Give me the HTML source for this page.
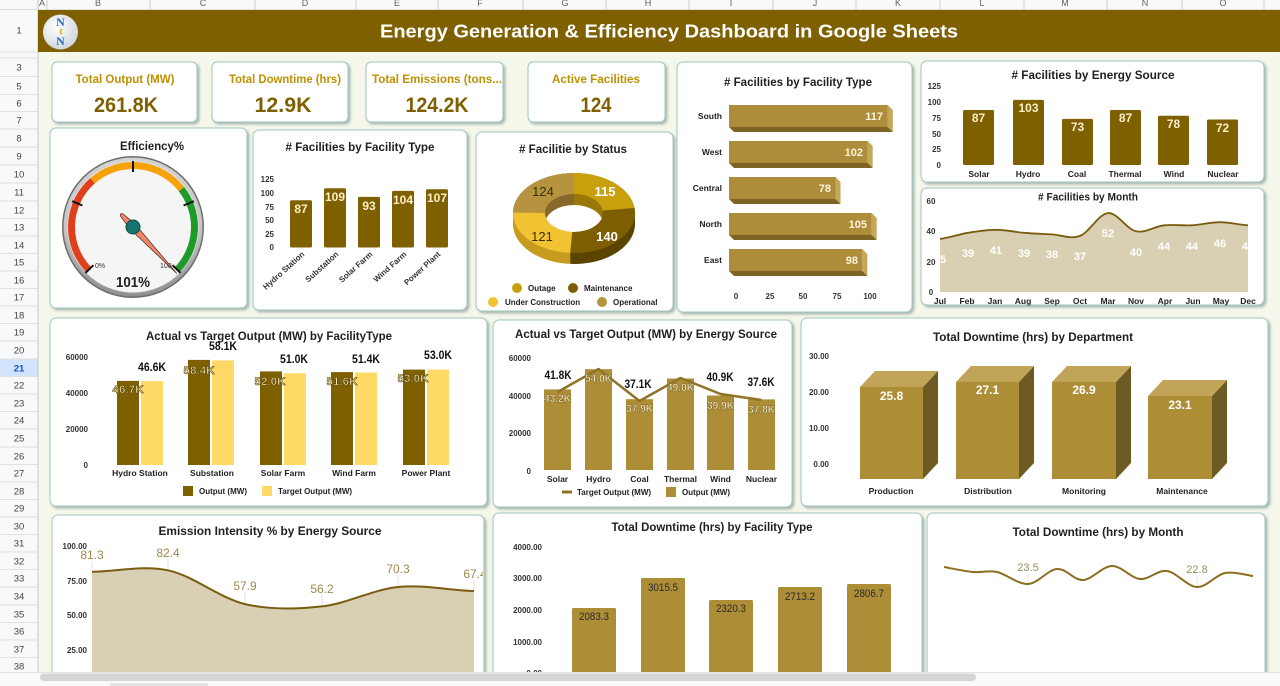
<!DOCTYPE html>
<html><head><meta charset="utf-8"><title>Energy Generation &amp; Efficiency Dashboard</title><style>
html,body{margin:0;padding:0;background:#f5f7eb;overflow:hidden;}
svg{display:block;font-family:"Liberation Sans",Arial,sans-serif;}
</style></head><body>
<svg width="1280" height="686" viewBox="0 0 1280 686" xmlns="http://www.w3.org/2000/svg">
<defs>
<filter id="sh" x="-5%" y="-5%" width="112%" height="115%"><feDropShadow dx="2" dy="2" stdDeviation="1.4" flood-color="#4f6f6a" flood-opacity="0.45"/></filter>
<radialGradient id="bez" cx="50%" cy="35%" r="65%"><stop offset="0" stop-color="#f0f0f0"/><stop offset="0.8" stop-color="#c4c4c4"/><stop offset="1" stop-color="#8c8c8c"/></radialGradient>
<radialGradient id="logo" cx="40%" cy="35%" r="70%"><stop offset="0" stop-color="#ffffff"/><stop offset="1" stop-color="#cdd5dc"/></radialGradient>
<clipPath id="cm"><rect x="938" y="190" width="313" height="112"/></clipPath>
<clipPath id="ce"><rect x="53" y="516" width="430" height="160"/></clipPath>
</defs>
<rect width="1280" height="686" fill="#f5f7eb"/>

<!-- column header -->
<rect x="0" y="0" width="1280" height="10" fill="#f8f9fa"/>
<g stroke="#d0d0d0" stroke-width="1">
<line x1="47" y1="0" x2="47" y2="10"/><line x1="150" y1="0" x2="150" y2="10"/><line x1="255" y1="0" x2="255" y2="10"/><line x1="356" y1="0" x2="356" y2="10"/><line x1="438" y1="0" x2="438" y2="10"/><line x1="523" y1="0" x2="523" y2="10"/><line x1="606" y1="0" x2="606" y2="10"/><line x1="689" y1="0" x2="689" y2="10"/><line x1="773" y1="0" x2="773" y2="10"/><line x1="856" y1="0" x2="856" y2="10"/><line x1="940" y1="0" x2="940" y2="10"/><line x1="1024" y1="0" x2="1024" y2="10"/><line x1="1107" y1="0" x2="1107" y2="10"/><line x1="1182" y1="0" x2="1182" y2="10"/><line x1="1264" y1="0" x2="1264" y2="10"/>
</g>
<line x1="0" y1="10" x2="1280" y2="10" stroke="#c4c7c5"/>
<g font-size="9" fill="#5f6368" text-anchor="middle">
<text x="42" y="6">A</text><text x="98" y="6">B</text><text x="203" y="6">C</text><text x="305" y="6">D</text><text x="397" y="6">E</text><text x="480" y="6">F</text><text x="565" y="6">G</text><text x="648" y="6">H</text><text x="731" y="6">I</text><text x="815" y="6">J</text><text x="898" y="6">K</text><text x="982" y="6">L</text><text x="1065" y="6">M</text><text x="1145" y="6">N</text><text x="1223" y="6">O</text>
</g>

<!-- row header -->
<rect x="0" y="10" width="38" height="662" fill="#f8f9fa"/>
<rect x="0" y="359" width="38" height="17.5" fill="#d3e3fd"/>
<g stroke="#e0e0e0" stroke-width="1">
<line x1="0" y1="52" x2="38" y2="52"/><line x1="0" y1="58" x2="38" y2="58"/><line x1="0" y1="76.5" x2="38" y2="76.5"/><line x1="0" y1="94.5" x2="38" y2="94.5"/><line x1="0" y1="111.5" x2="38" y2="111.5"/><line x1="0" y1="129" x2="38" y2="129"/><line x1="0" y1="147" x2="38" y2="147"/><line x1="0" y1="165" x2="38" y2="165"/><line x1="0" y1="183" x2="38" y2="183"/><line x1="0" y1="201" x2="38" y2="201"/><line x1="0" y1="218.5" x2="38" y2="218.5"/><line x1="0" y1="236" x2="38" y2="236"/><line x1="0" y1="253.5" x2="38" y2="253.5"/><line x1="0" y1="271" x2="38" y2="271"/><line x1="0" y1="288.5" x2="38" y2="288.5"/><line x1="0" y1="306" x2="38" y2="306"/><line x1="0" y1="323.5" x2="38" y2="323.5"/><line x1="0" y1="341" x2="38" y2="341"/><line x1="0" y1="359" x2="38" y2="359"/><line x1="0" y1="376.5" x2="38" y2="376.5"/><line x1="0" y1="394" x2="38" y2="394"/><line x1="0" y1="411.5" x2="38" y2="411.5"/><line x1="0" y1="429" x2="38" y2="429"/><line x1="0" y1="447" x2="38" y2="447"/><line x1="0" y1="464.5" x2="38" y2="464.5"/><line x1="0" y1="482" x2="38" y2="482"/><line x1="0" y1="499.5" x2="38" y2="499.5"/><line x1="0" y1="517" x2="38" y2="517"/><line x1="0" y1="534.5" x2="38" y2="534.5"/><line x1="0" y1="552" x2="38" y2="552"/><line x1="0" y1="569.5" x2="38" y2="569.5"/><line x1="0" y1="587" x2="38" y2="587"/><line x1="0" y1="605" x2="38" y2="605"/><line x1="0" y1="622.5" x2="38" y2="622.5"/><line x1="0" y1="640" x2="38" y2="640"/><line x1="0" y1="657.5" x2="38" y2="657.5"/>
</g>
<line x1="38" y1="0" x2="38" y2="672" stroke="#c4c7c5"/>
<g font-size="9.5" fill="#444" text-anchor="middle">
<text x="19" y="33.5">1</text><text x="19" y="70.5">3</text><text x="19" y="89.5">5</text><text x="19" y="106.5">6</text><text x="19" y="123.5">7</text><text x="19" y="141.5">8</text><text x="19" y="159.5">9</text><text x="19" y="177.5">10</text><text x="19" y="195.5">11</text><text x="19" y="213.5">12</text><text x="19" y="230.5">13</text><text x="19" y="248.5">14</text><text x="19" y="265.5">15</text><text x="19" y="283.5">16</text><text x="19" y="300.5">17</text><text x="19" y="318.5">18</text><text x="19" y="335.5">19</text><text x="19" y="353.5">20</text><text x="19" y="371.5" fill="#0b57d0" font-weight="bold">21</text><text x="19" y="388.5">22</text><text x="19" y="406.5">23</text><text x="19" y="423.5">24</text><text x="19" y="441.5">25</text><text x="19" y="459.5">26</text><text x="19" y="476.5">27</text><text x="19" y="494.5">28</text><text x="19" y="511.5">29</text><text x="19" y="529.5">30</text><text x="19" y="546.5">31</text><text x="19" y="564.5">32</text><text x="19" y="581.5">33</text><text x="19" y="599.5">34</text><text x="19" y="617.5">35</text><text x="19" y="634.5">36</text><text x="19" y="652.5">37</text><text x="19" y="669.5">38</text>
</g>

<!-- banner -->
<rect x="38" y="10" width="1242" height="42" fill="#7f6000"/>
<circle cx="60.5" cy="32" r="17.5" fill="url(#logo)"/>
<g font-family="Liberation Serif,serif" font-weight="bold" text-anchor="middle">
<text x="60.5" y="26" font-size="12" fill="#1f6fc0">N</text>
<text x="61" y="34.5" font-size="10" fill="#d9a40c">t</text>
<text x="60.5" y="45" font-size="12" fill="#1f6fc0">N</text>
</g>
<text x="669" y="37.5" font-size="18" font-weight="bold" fill="#ffffff" text-anchor="middle" textLength="578" lengthAdjust="spacingAndGlyphs">Energy Generation &amp; Efficiency Dashboard in Google Sheets</text>

<!-- cards -->
<g fill="#ffffff" stroke="#9fc5c0" stroke-width="1" filter="url(#sh)">
<rect x="52" y="62" width="145" height="60" rx="5"/>
<rect x="212" y="62" width="136" height="60" rx="5"/>
<rect x="366" y="62" width="137" height="60" rx="5"/>
<rect x="528" y="62" width="137" height="60" rx="5"/>
<rect x="50" y="128" width="197" height="180" rx="6"/>
<rect x="253" y="130" width="214" height="180" rx="6"/>
<rect x="476" y="132" width="197" height="179" rx="6"/>
<rect x="677" y="62" width="235" height="250" rx="6"/>
<rect x="921" y="61" width="343" height="121" rx="6"/>
<rect x="921" y="188" width="343" height="117" rx="6"/>
<rect x="50" y="318" width="437" height="188" rx="6"/>
<rect x="493" y="320" width="299" height="187" rx="6"/>
<rect x="801" y="318" width="467" height="188" rx="6"/>
<rect x="52" y="515" width="432" height="180" rx="6"/>
<rect x="493" y="513" width="429" height="180" rx="6"/>
<rect x="927" y="513" width="338" height="180" rx="6"/>
</g>

<!-- KPIs -->
<g font-weight="bold" text-anchor="middle">
<g font-size="12" fill="#bf9000">
<text x="125" y="83" textLength="99" lengthAdjust="spacingAndGlyphs">Total Output (MW)</text>
<text x="285" y="83" textLength="112" lengthAdjust="spacingAndGlyphs">Total Downtime (hrs)</text>
<text x="437" y="83" textLength="130" lengthAdjust="spacingAndGlyphs">Total Emissions (tons...</text>
<text x="596" y="83" textLength="88" lengthAdjust="spacingAndGlyphs">Active Facilities</text>
</g>
<g font-size="21" fill="#7f6000">
<text x="126" y="112" textLength="64" lengthAdjust="spacingAndGlyphs">261.8K</text>
<text x="283" y="112" textLength="57" lengthAdjust="spacingAndGlyphs">12.9K</text>
<text x="437" y="112" textLength="63" lengthAdjust="spacingAndGlyphs">124.2K</text>
<text x="596" y="112" textLength="31" lengthAdjust="spacingAndGlyphs">124</text>
</g>
</g>

<!-- chart titles -->
<g font-weight="bold" fill="#1f1f1f" text-anchor="middle" font-size="12">
<text x="152" y="150" textLength="64" lengthAdjust="spacingAndGlyphs">Efficiency%</text>
<text x="360" y="151" textLength="149" lengthAdjust="spacingAndGlyphs"># Facilities by Facility Type</text>
<text x="573" y="153" textLength="108" lengthAdjust="spacingAndGlyphs"># Facilitie by Status</text>
<text x="798" y="86" textLength="148" lengthAdjust="spacingAndGlyphs"># Facilities by Facility Type</text>
<text x="1093" y="79" textLength="163" lengthAdjust="spacingAndGlyphs"># Facilities by  Energy Source</text>
<text x="1088" y="200.5" font-size="11" textLength="100" lengthAdjust="spacingAndGlyphs"># Facilities by  Month</text>
<text x="269" y="340" textLength="246" lengthAdjust="spacingAndGlyphs">Actual vs Target Output (MW) by FacilityType</text>
<text x="646" y="338" textLength="262" lengthAdjust="spacingAndGlyphs">Actual vs Target Output (MW) by Energy Source</text>
<text x="1033" y="341" textLength="200" lengthAdjust="spacingAndGlyphs">Total Downtime (hrs)  by Department</text>
<text x="270" y="535" textLength="223" lengthAdjust="spacingAndGlyphs">Emission Intensity  % by  Energy Source</text>
<text x="712" y="531" textLength="201" lengthAdjust="spacingAndGlyphs">Total Downtime (hrs) by Facility Type</text>
<text x="1098" y="536" textLength="171" lengthAdjust="spacingAndGlyphs">Total Downtime (hrs)  by Month</text>
</g>

<!-- Gauge -->
<circle cx="133" cy="227" r="71" fill="#6e6e6e"/>
<circle cx="133" cy="227" r="69.5" fill="url(#bez)"/>
<circle cx="133" cy="227" r="65.5" fill="#f5f5f5"/>
<g fill="none" stroke-width="7">
<path d="M88.76,269.72 A61.5,61.5 0 0 1 92.65,180.59" stroke="#df3f1b"/>
<path d="M92.65,180.59 A61.5,61.5 0 0 1 181.46,189.14" stroke="#f6a20a"/>
<path d="M181.46,189.14 A61.5,61.5 0 0 1 177.24,269.72" stroke="#1f9a2a"/>
</g>
<g stroke="#111" stroke-width="2">
<line x1="93.44" y1="265.21" x2="85.53" y2="272.85"/>
<line x1="82.4" y1="205.5" x2="72.2" y2="201.2"/>
<line x1="133" y1="172" x2="133" y2="161"/>
<line x1="183.6" y1="205.5" x2="193.8" y2="201.2"/>
<line x1="172.56" y1="265.21" x2="180.47" y2="272.85"/>
</g>
<text x="95" y="268" font-size="7" fill="#333">0%</text>
<text x="160" y="268" font-size="7" fill="#333">100</text>
<g transform="rotate(136.7 133 227)">
<path d="M133,163 L136.5,227 L134.8,243 Q133,247 131.2,243 L129.5,227 Z" fill="#f0866a" stroke="#4a2a20" stroke-width="0.7"/>
</g>
<circle cx="133" cy="227" r="7" fill="#17736b" stroke="#0d4d47" stroke-width="1"/>
<text x="133" y="287" font-size="15" font-weight="bold" fill="#1f1f1f" text-anchor="middle" textLength="34" lengthAdjust="spacingAndGlyphs">101%</text>

<!-- Small bar chart -->
<g font-size="8" font-weight="bold" fill="#333" text-anchor="end">
<text x="274" y="182">125</text><text x="274" y="196">100</text><text x="274" y="210">75</text><text x="274" y="223">50</text><text x="274" y="237">25</text><text x="274" y="250">0</text>
</g>
<g fill="#7f6000">
<rect x="290" y="200.2" width="22" height="47.3" rx="1.5"/>
<rect x="324" y="188.2" width="22" height="59.3" rx="1.5"/>
<rect x="358" y="196.9" width="22" height="50.6" rx="1.5"/>
<rect x="392" y="190.9" width="22" height="56.6" rx="1.5"/>
<rect x="426" y="189.3" width="22" height="58.2" rx="1.5"/>
</g>
<g font-size="12" font-weight="bold" fill="#fbefc8" text-anchor="middle">
<text x="301" y="213">87</text><text x="335" y="201">109</text><text x="369" y="210">93</text><text x="403" y="204">104</text><text x="437" y="202">107</text>
</g>
<g font-size="8" font-weight="bold" fill="#333" text-anchor="end">
<text transform="translate(305,255) rotate(-42)">Hydro Station</text>
<text transform="translate(339,255) rotate(-42)">Substation</text>
<text transform="translate(373,255) rotate(-42)">Solar Farm</text>
<text transform="translate(407,255) rotate(-42)">Wind Farm</text>
<text transform="translate(441,255) rotate(-42)">Power Plant</text>
</g>

<!-- Donut -->
<g id="dside">
<path d="M574,173 A61,40 0 0 1 634.52,207.99 L602.77,210.62 A29,19 0 0 0 574,194 Z" fill="#98780a"/>
<path d="M634.52,207.99 A61,40 0 0 1 570.17,252.92 L572.18,231.96 A29,19 0 0 0 602.77,210.62 Z" fill="#5a4400"/>
<path d="M570.17,252.92 A61,40 0 0 1 513,212.5 L545,212.76 A29,19 0 0 0 572.18,231.96 Z" fill="#c79c1e"/>
<path d="M513,212.5 A61,40 0 0 1 574,173 L574,194 A29,19 0 0 0 545,212.76 Z" fill="#87692a"/>
</g>
<use href="#dside" y="11"/><use href="#dside" y="10"/><use href="#dside" y="9"/><use href="#dside" y="8"/><use href="#dside" y="7"/><use href="#dside" y="6"/><use href="#dside" y="5"/><use href="#dside" y="4"/><use href="#dside" y="3"/><use href="#dside" y="2"/><use href="#dside" y="1"/>
<path d="M574,173 A61,40 0 0 1 634.52,207.99 L602.77,210.62 A29,19 0 0 0 574,194 Z" fill="#c89f0c"/>
<path d="M634.52,207.99 A61,40 0 0 1 570.17,252.92 L572.18,231.96 A29,19 0 0 0 602.77,210.62 Z" fill="#7d5e02"/>
<path d="M570.17,252.92 A61,40 0 0 1 513,212.5 L545,212.76 A29,19 0 0 0 572.18,231.96 Z" fill="#f1c232"/>
<path d="M513,212.5 A61,40 0 0 1 574,173 L574,194 A29,19 0 0 0 545,212.76 Z" fill="#b6933e"/>
<g font-size="13" text-anchor="middle">
<text x="605" y="196" fill="#fff" font-weight="bold">115</text>
<text x="607" y="241" fill="#fff" font-weight="bold">140</text>
<text x="542" y="241" fill="#3a3000">121</text>
<text x="543" y="196" fill="#3a3000">124</text>
</g>
<circle cx="517" cy="288" r="5" fill="#c89f0c"/><circle cx="573" cy="288" r="5" fill="#7d5e02"/>
<circle cx="493" cy="302" r="5" fill="#f1c232"/><circle cx="602" cy="302" r="5" fill="#b6933e"/>
<g font-size="8" font-weight="bold" fill="#222">
<text x="528" y="291">Outage</text><text x="584" y="291">Maintenance</text>
<text x="505" y="305">Under Construction</text><text x="613" y="305">Operational</text>
</g>

<!-- Horizontal 3D bars -->
<g>
<rect x="729" y="105" width="158.8" height="22" fill="#ad8c3a"/>
<polygon points="887.8,105 892.8,110 892.8,132 887.8,127" fill="#c4a75b"/>
<polygon points="729,127 887.8,127 892.8,132 734,132" fill="#7c6424"/>
<rect x="729" y="141" width="138.7" height="22" fill="#ad8c3a"/>
<polygon points="867.7,141 872.7,146 872.7,168 867.7,163" fill="#c4a75b"/>
<polygon points="729,163 867.7,163 872.7,168 734,168" fill="#7c6424"/>
<rect x="729" y="177" width="106.5" height="22" fill="#ad8c3a"/>
<polygon points="835.5,177 840.5,182 840.5,204 835.5,199" fill="#c4a75b"/>
<polygon points="729,199 835.5,199 840.5,204 734,204" fill="#7c6424"/>
<rect x="729" y="213" width="142.7" height="22" fill="#ad8c3a"/>
<polygon points="871.7,213 876.7,218 876.7,240 871.7,235" fill="#c4a75b"/>
<polygon points="729,235 871.7,235 876.7,240 734,240" fill="#7c6424"/>
<rect x="729" y="249" width="133.3" height="22" fill="#ad8c3a"/>
<polygon points="862.3,249 867.3,254 867.3,276 862.3,271" fill="#c4a75b"/>
<polygon points="729,271 862.3,271 867.3,276 734,276" fill="#7c6424"/>
</g>
<g font-size="11" font-weight="bold" fill="#fff5dc" text-anchor="end">
<text x="883" y="120">117</text><text x="863" y="156">102</text><text x="831" y="192">78</text><text x="867" y="228">105</text><text x="858" y="264">98</text>
</g>
<g font-size="8.5" font-weight="bold" fill="#222" text-anchor="end">
<text x="722" y="119">South</text><text x="722" y="155">West</text><text x="722" y="191">Central</text><text x="722" y="227">North</text><text x="722" y="263">East</text>
</g>
<g font-size="8" font-weight="bold" fill="#333" text-anchor="middle">
<text x="736" y="299">0</text><text x="770" y="299">25</text><text x="803" y="299">50</text><text x="837" y="299">75</text><text x="870" y="299">100</text>
</g>

<!-- Energy source bars -->
<g font-size="8" font-weight="bold" fill="#333" text-anchor="end">
<text x="941" y="89">125</text><text x="941" y="105">100</text><text x="941" y="121">75</text><text x="941" y="137">50</text><text x="941" y="152">25</text><text x="941" y="168">0</text>
</g>
<g fill="#7f6000">
<rect x="963" y="110" width="31" height="55" rx="1.5"/>
<rect x="1013" y="99.9" width="31" height="65.1" rx="1.5"/>
<rect x="1062" y="118.9" width="31" height="46.1" rx="1.5"/>
<rect x="1110" y="110" width="31" height="55" rx="1.5"/>
<rect x="1158" y="115.7" width="31" height="49.3" rx="1.5"/>
<rect x="1207" y="119.5" width="31" height="45.5" rx="1.5"/>
</g>
<g font-size="12" font-weight="bold" fill="#fbefc8" text-anchor="middle">
<text x="978.5" y="122">87</text><text x="1028.5" y="112">103</text><text x="1077.5" y="131">73</text><text x="1125.5" y="122">87</text><text x="1173.5" y="128">78</text><text x="1222.5" y="132">72</text>
</g>
<g font-size="8.5" font-weight="bold" fill="#222" text-anchor="middle">
<text x="979" y="177">Solar</text><text x="1028" y="177">Hydro</text><text x="1077" y="177">Coal</text><text x="1125" y="177">Thermal</text><text x="1174" y="177">Wind</text><text x="1223" y="177">Nuclear</text>
</g>

<!-- Month area -->
<g clip-path="url(#cm)">
<path d="M940,238.9 C949.3,237.9 958.7,234.3 968,232.8 C977.3,231.3 986.7,229.8 996,229.8 C1005.3,229.8 1014.7,232.0 1024,232.8 C1033.3,233.6 1042.7,233.9 1052,234.4 C1061.3,234.9 1070.7,239.5 1080,235.9 C1089.3,232.4 1098.7,213.9 1108,213.1 C1117.3,212.3 1126.7,229.3 1136,231.3 C1145.3,233.3 1154.7,226.3 1164,225.3 C1173.3,224.3 1182.7,225.8 1192,225.3 C1201.3,224.8 1210.7,222.2 1220,222.2 C1229.3,222.2 1238.7,224.8 1248,225.3 L1248,292 L940,292 Z" fill="#d9cfb3"/>
<path d="M940,238.9 C949.3,237.9 958.7,234.3 968,232.8 C977.3,231.3 986.7,229.8 996,229.8 C1005.3,229.8 1014.7,232.0 1024,232.8 C1033.3,233.6 1042.7,233.9 1052,234.4 C1061.3,234.9 1070.7,239.5 1080,235.9 C1089.3,232.4 1098.7,213.9 1108,213.1 C1117.3,212.3 1126.7,229.3 1136,231.3 C1145.3,233.3 1154.7,226.3 1164,225.3 C1173.3,224.3 1182.7,225.8 1192,225.3 C1201.3,224.8 1210.7,222.2 1220,222.2 C1229.3,222.2 1238.7,224.8 1248,225.3" fill="none" stroke="#7a5c10" stroke-width="1.8"/>
<g font-size="11" font-weight="bold" fill="#ffffff" text-anchor="middle">
<text x="940" y="263">35</text><text x="968" y="257">39</text><text x="996" y="254">41</text><text x="1024" y="257">39</text><text x="1052" y="258">38</text><text x="1080" y="260">37</text><text x="1108" y="237">52</text><text x="1136" y="256">40</text><text x="1164" y="250">44</text><text x="1192" y="250">44</text><text x="1220" y="247">46</text><text x="1248" y="250">44</text>
</g>
</g>
<g font-size="8" font-weight="bold" fill="#333" text-anchor="middle">
<text x="931" y="204">60</text><text x="931" y="234">40</text><text x="931" y="265">20</text><text x="931" y="295">0</text>
</g>
<g font-size="8.5" font-weight="bold" fill="#222" text-anchor="middle">
<text x="940" y="304">Jul</text><text x="967" y="304">Feb</text><text x="995" y="304">Jan</text><text x="1023" y="304">Aug</text><text x="1052" y="304">Sep</text><text x="1080" y="304">Oct</text><text x="1108" y="304">Mar</text><text x="1136" y="304">Nov</text><text x="1165" y="304">Apr</text><text x="1193" y="304">Jun</text><text x="1221" y="304">May</text><text x="1248" y="304">Dec</text>
</g>

<!-- Actual vs Target by Facility Type -->
<g font-size="8" font-weight="bold" fill="#333" text-anchor="end">
<text x="88" y="360">60000</text><text x="88" y="396">40000</text><text x="88" y="432">20000</text><text x="88" y="468">0</text>
</g>
<g fill="#7f6000">
<rect x="117" y="380.9" width="22" height="84.1"/>
<rect x="188" y="359.9" width="22" height="105.1"/>
<rect x="260" y="371.4" width="22" height="93.6"/>
<rect x="331" y="372.1" width="22" height="92.9"/>
<rect x="403" y="369.6" width="22" height="95.4"/>
</g>
<g fill="#ffd966">
<rect x="141" y="381.1" width="22" height="83.9"/>
<rect x="212" y="360.4" width="22" height="104.6"/>
<rect x="284" y="373.2" width="22" height="91.8"/>
<rect x="355" y="372.5" width="22" height="92.5"/>
<rect x="427" y="369.6" width="22" height="95.4"/>
</g>
<g font-size="11" font-weight="bold" fill="#f7ebc4" stroke="#5a4500" stroke-width="0.6" text-anchor="middle">
<text x="128" y="393" textLength="31" lengthAdjust="spacingAndGlyphs">46.7K</text>
<text x="199" y="374" textLength="31" lengthAdjust="spacingAndGlyphs">58.4K</text>
<text x="270" y="385" textLength="31" lengthAdjust="spacingAndGlyphs">52.0K</text>
<text x="342" y="385" textLength="31" lengthAdjust="spacingAndGlyphs">51.6K</text>
<text x="413" y="382" textLength="31" lengthAdjust="spacingAndGlyphs">53.0K</text>
</g>
<g font-size="11.5" font-weight="bold" fill="#111" text-anchor="middle">
<text x="152" y="371" textLength="28" lengthAdjust="spacingAndGlyphs">46.6K</text>
<text x="223" y="350" textLength="28" lengthAdjust="spacingAndGlyphs">58.1K</text>
<text x="294" y="363" textLength="28" lengthAdjust="spacingAndGlyphs">51.0K</text>
<text x="366" y="363" textLength="28" lengthAdjust="spacingAndGlyphs">51.4K</text>
<text x="438" y="359" textLength="28" lengthAdjust="spacingAndGlyphs">53.0K</text>
</g>
<g font-size="8.5" font-weight="bold" fill="#222" text-anchor="middle">
<text x="140" y="476">Hydro Station</text><text x="212" y="476">Substation</text><text x="283" y="476">Solar Farm</text><text x="354" y="476">Wind Farm</text><text x="426" y="476">Power Plant</text>
</g>
<rect x="183" y="486" width="10" height="10" fill="#7f6000"/>
<rect x="262" y="486" width="10" height="10" fill="#ffd966"/>
<g font-size="8" font-weight="bold" fill="#222">
<text x="199" y="494">Output (MW)</text><text x="278" y="494">Target Output (MW)</text>
</g>

<!-- Actual vs Target by Energy Source -->
<g font-size="8" font-weight="bold" fill="#333" text-anchor="end">
<text x="531" y="361">60000</text><text x="531" y="399">40000</text><text x="531" y="436">20000</text><text x="531" y="474">0</text>
</g>
<g fill="#ad8e37">
<rect x="544" y="389.4" width="27" height="80.6"/>
<rect x="585" y="369.2" width="27" height="100.8"/>
<rect x="626" y="399.2" width="27" height="70.8"/>
<rect x="667" y="378.5" width="27" height="91.5"/>
<rect x="707" y="395.5" width="27" height="74.5"/>
<rect x="748" y="399.4" width="27" height="70.6"/>
</g>
<polyline points="557.5,392 598.5,369 639.5,401 680.5,378 720.5,394 761.5,400" fill="none" stroke="#8f7428" stroke-width="2.5" stroke-linejoin="round"/>
<g font-size="11" font-weight="bold" fill="#f7efd5" stroke="#6b5510" stroke-width="0.4" text-anchor="middle">
<text x="557.5" y="402" textLength="27" lengthAdjust="spacingAndGlyphs">43.2K</text>
<text x="598.5" y="382" textLength="27" lengthAdjust="spacingAndGlyphs">54.0K</text>
<text x="639.5" y="412" textLength="27" lengthAdjust="spacingAndGlyphs">37.9K</text>
<text x="680.5" y="391" textLength="27" lengthAdjust="spacingAndGlyphs">49.0K</text>
<text x="720.5" y="409" textLength="27" lengthAdjust="spacingAndGlyphs">39.9K</text>
<text x="761.5" y="413" textLength="27" lengthAdjust="spacingAndGlyphs">37.8K</text>
</g>
<g font-size="11.5" font-weight="bold" fill="#111" text-anchor="middle">
<text x="558" y="379" textLength="27" lengthAdjust="spacingAndGlyphs">41.8K</text>
<text x="638" y="388" textLength="27" lengthAdjust="spacingAndGlyphs">37.1K</text>
<text x="720" y="381" textLength="27" lengthAdjust="spacingAndGlyphs">40.9K</text>
<text x="761" y="386" textLength="27" lengthAdjust="spacingAndGlyphs">37.6K</text>
</g>
<g font-size="8.5" font-weight="bold" fill="#222" text-anchor="middle">
<text x="557.5" y="482">Solar</text><text x="598.5" y="482">Hydro</text><text x="639.5" y="482">Coal</text><text x="680.5" y="482">Thermal</text><text x="720.5" y="482">Wind</text><text x="761.5" y="482">Nuclear</text>
</g>
<line x1="562" y1="492" x2="572" y2="492" stroke="#8f7428" stroke-width="3"/>
<rect x="666" y="487" width="10" height="10" fill="#ad8e37"/>
<g font-size="8" font-weight="bold" fill="#222">
<text x="577" y="495">Target Output (MW)</text><text x="682" y="495">Output (MW)</text>
</g>

<!-- Downtime by Department 3D -->
<g font-size="8" font-weight="bold" fill="#333" text-anchor="end">
<text x="829" y="359">30.00</text><text x="829" y="395">20.00</text><text x="829" y="431">10.00</text><text x="829" y="467">0.00</text>
</g>
<g>
<rect x="860" y="387" width="63" height="92" fill="#ad8e37"/>
<polygon points="923,387 938,371 938,463 923,479" fill="#6e5b24"/>
<polygon points="860,387 875,371 938,371 923,387" fill="#c2a458"/>
<rect x="956" y="382" width="63" height="97" fill="#ad8e37"/>
<polygon points="1019,382 1034,366 1034,463 1019,479" fill="#6e5b24"/>
<polygon points="956,382 971,366 1034,366 1019,382" fill="#c2a458"/>
<rect x="1052" y="382" width="64" height="97" fill="#ad8e37"/>
<polygon points="1116,382 1131,366 1131,463 1116,479" fill="#6e5b24"/>
<polygon points="1052,382 1067,366 1131,366 1116,382" fill="#c2a458"/>
<rect x="1148" y="396" width="64" height="83" fill="#ad8e37"/>
<polygon points="1212,396 1227,380 1227,463 1212,479" fill="#6e5b24"/>
<polygon points="1148,396 1163,380 1227,380 1212,396" fill="#c2a458"/>
</g>
<g font-size="12" font-weight="bold" fill="#ffffff" text-anchor="middle">
<text x="891.5" y="400">25.8</text><text x="987.5" y="394">27.1</text><text x="1084" y="394">26.9</text><text x="1180" y="409">23.1</text>
</g>
<g font-size="8.5" font-weight="bold" fill="#222" text-anchor="middle">
<text x="891" y="494">Production</text><text x="988" y="494">Distribution</text><text x="1084" y="494">Monitoring</text><text x="1182" y="494">Maintenance</text>
</g>

<!-- Emission Intensity area -->
<g clip-path="url(#ce)">
<path d="M92,571.8 C117.5,571.55 142.5,564.9 168,570.3 C193.5,575.7 219.5,598.1 245,604.1 C270.5,610.1 296.5,609.3 322,606.4 C347.5,603.6 372.5,589.6 398,587.0 C423.5,584.4 448.5,590.3 474,591.0 L474,690 L92,690 Z" fill="#d9cfb3"/>
<path d="M92,571.8 C117.5,571.55 142.5,564.9 168,570.3 C193.5,575.7 219.5,598.1 245,604.1 C270.5,610.1 296.5,609.3 322,606.4 C347.5,603.6 372.5,589.6 398,587.0 C423.5,584.4 448.5,590.3 474,591.0" fill="none" stroke="#7a5c10" stroke-width="2"/>
<g stroke="#e6e1d2" stroke-width="1">
<line x1="92" y1="561" x2="92" y2="571"/><line x1="168" y1="559" x2="168" y2="569"/><line x1="245" y1="592" x2="245" y2="603"/><line x1="322" y1="595" x2="322" y2="605"/><line x1="398" y1="575" x2="398" y2="586"/><line x1="474" y1="580" x2="474" y2="590"/>
</g>
<g font-size="12" fill="#a0884c" text-anchor="middle">
<text x="92" y="559">81.3</text><text x="168" y="557">82.4</text><text x="245" y="590">57.9</text><text x="322" y="593">56.2</text><text x="398" y="573">70.3</text><text x="475" y="578">67.4</text>
</g>
</g>
<g font-size="8" font-weight="bold" fill="#333" text-anchor="end">
<text x="87" y="549">100.00</text><text x="87" y="584">75.00</text><text x="87" y="618">50.00</text><text x="87" y="653">25.00</text>
</g>

<!-- Downtime by Facility Type -->
<g font-size="8" font-weight="bold" fill="#333" text-anchor="end">
<text x="542" y="550">4000.00</text><text x="542" y="581">3000.00</text><text x="542" y="613">2000.00</text><text x="542" y="645">1000.00</text><text x="542" y="676">0.00</text>
</g>
<g fill="#ad8e37">
<rect x="572" y="608" width="44" height="80" rx="1.5"/>
<rect x="641" y="578" width="44" height="110" rx="1.5"/>
<rect x="709" y="600" width="44" height="88" rx="1.5"/>
<rect x="778" y="587" width="44" height="101" rx="1.5"/>
<rect x="847" y="584" width="44" height="104" rx="1.5"/>
</g>
<g font-size="11" fill="#2a2a2a" text-anchor="middle">
<text x="594" y="620" textLength="30" lengthAdjust="spacingAndGlyphs">2083.3</text>
<text x="663" y="591" textLength="30" lengthAdjust="spacingAndGlyphs">3015.5</text>
<text x="731" y="612" textLength="30" lengthAdjust="spacingAndGlyphs">2320.3</text>
<text x="800" y="600" textLength="30" lengthAdjust="spacingAndGlyphs">2713.2</text>
<text x="869" y="597" textLength="30" lengthAdjust="spacingAndGlyphs">2806.7</text>
</g>

<!-- Downtime by Month line -->
<line x1="1028" y1="574" x2="1028" y2="583" stroke="#e3e3e3"/>
<line x1="1197" y1="576" x2="1197" y2="586" stroke="#e3e3e3"/>
<path d="M944,567 C948.8,567.8 964.2,571.2 973,572 C981.8,572.8 987.8,570 997,572 C1006.2,574 1018,584.5 1028,584 C1038,583.5 1047.8,569.7 1057,569 C1066.2,568.3 1073.8,580.5 1083,580 C1092.2,579.5 1102.5,566.2 1112,566 C1121.5,565.8 1130.8,578.2 1140,579 C1149.2,579.8 1157.5,569.7 1167,571 C1176.5,572.3 1187.3,586.7 1197,587 C1206.7,587.3 1215.7,574.8 1225,573 C1234.3,571.2 1248.3,575.5 1253,576" fill="none" stroke="#8a6d1e" stroke-width="2"/>
<g font-size="11" fill="#9c8c5c" text-anchor="middle">
<text x="1028" y="571">23.5</text><text x="1197" y="573">22.8</text>
</g>

<!-- bottom scrollbar -->
<rect x="0" y="672" width="1280" height="14" fill="#f8f9fa"/>
<line x1="0" y1="672.5" x2="1280" y2="672.5" stroke="#e2e2e2"/>
<rect x="40" y="673.5" width="936" height="7.5" rx="3.7" fill="#d5d5d5"/>
<rect x="110" y="683" width="98" height="3" fill="#e4e4e4"/>
</svg>
</body></html>
